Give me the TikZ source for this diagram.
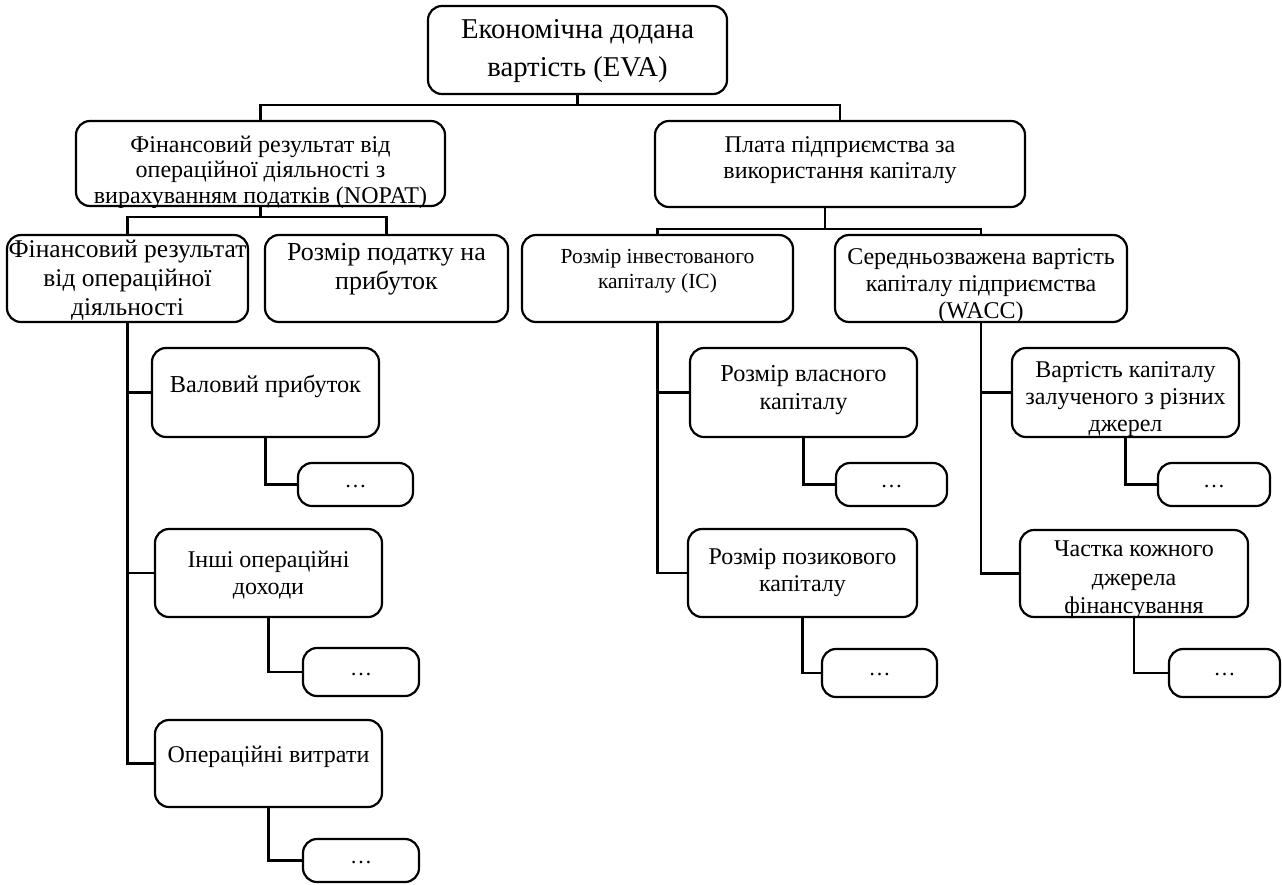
\documentclass[tikz,border=0pt]{standalone}
\usepackage{fontspec}
\setmainfont{Liberation Serif}
\usetikzlibrary{calc}
\tikzset{
  box/.style={draw, line width=2.2pt, rounded corners=14pt, inner sep=0pt},
  conn/.style={draw, line width=2.2pt},
  txt/.style={align=center, inner sep=0pt},
}
\newcommand\mybox[5]{%
  \node[box, minimum width={(#4-#2)*1pt}, minimum height={(#5-#3)*1pt}] (#1) at ({(#2+#4)/2},{(#3+#5)/2}) {};%
}
\newcommand\mytext[5]{%
  \begin{scope}
    \clip[rounded corners=14pt] (#1.south west) rectangle (#1.north east);
    \node[txt, font=#4] (#1-t) at (#2,#3) {#5};
  \end{scope}%
}
\newcommand\fs[2]{\fontsize{#1}{#2}\selectfont}
\begin{document}
\begin{tikzpicture}[x=1pt,y=-1pt]
\useasboundingbox (0,0) rectangle (1282,884);
% boxes
\mybox{eva}{428}{6}{727}{94}
\mybox{nopat}{76}{121}{445}{206}
\mybox{plata}{655}{121}{1025}{207}
\mybox{fin}{7}{235}{248}{322}
\mybox{tax}{265}{235}{508}{322}
\mybox{ic}{522}{235}{793}{322}
\mybox{wacc}{835}{235}{1127}{322}
\mybox{val}{152}{348}{379}{437}
\mybox{d1}{298}{463}{413}{506}
\mybox{inshi}{155}{529}{382}{617}
\mybox{d2}{303}{648}{419}{696}
\mybox{opv}{155}{720}{382}{807}
\mybox{d3}{303}{839}{419}{882}
\mybox{vlas}{690}{348}{917}{437}
\mybox{d4}{836}{463}{947}{506}
\mybox{poz}{688}{529}{917}{617}
\mybox{d5}{822}{649}{937}{697}
\mybox{vart}{1012}{348}{1239}{437}
\mybox{d6}{1158}{463}{1270}{506}
\mybox{chast}{1020}{530}{1248}{617}
\mybox{d7}{1169}{649}{1280}{697}
% texts
\mytext{eva}{577.5}{51}{\fs{28.7}{38}}{Економічна додана\\вартість (EVA)}
\mytext{nopat}{260.5}{172}{\fs{24}{25.5}}{Фінансовий результат від\\операційної діяльності з\\вирахуванням податків (NOPAT)}
\mytext{plata}{840}{160}{\fs{24}{26}}{Плата підприємства за\\використання капіталу}
\mytext{fin}{127.5}{280}{\fs{25.5}{29}}{Фінансовий результат\\від операційної\\діяльності}
\mytext{tax}{386.5}{269}{\fs{26}{29}}{Розмір податку на\\прибуток}
\mytext{ic}{657.5}{271}{\fs{21.5}{25}}{Розмір інвестованого\\капіталу (IC)}
\mytext{wacc}{981}{286}{\fs{24}{27}}{Середньозважена вартість\\капіталу підприємства\\(WACC)}
\mytext{val}{265.5}{386}{\fs{24.3}{27}}{Валовий прибуток}
\mytext{vlas}{803.5}{390}{\fs{24.3}{28}}{Розмір власного\\капіталу}
\mytext{vart}{1125.5}{399}{\fs{24}{27}}{Вартість капіталу\\залученого з різних\\джерел}
\mytext{inshi}{268.5}{575}{\fs{24}{27}}{Інші операційні\\доходи}
\mytext{poz}{802.5}{573}{\fs{24}{27}}{Розмір позикового\\капіталу}
\mytext{chast}{1134}{580}{\fs{24}{28.5}}{Частка кожного\\джерела\\фінансування}
\mytext{opv}{268.5}{757}{\fs{24}{27}}{Операційні витрати}
\foreach \d in {d1,d2,d3,d4,d5,d6,d7}{
  \node[txt, font=\fs{22}{24}] (\d-t) at ($(\d.center)+(0,2)$) {…};
}
% connectors
\draw[conn] (eva.south) -- ++(0,10) -| (nopat.north);
\draw[conn] (eva.south) -- ++(0,10) -| (plata.north);
\draw[conn] (nopat.south) -- ++(0,10) -| (fin.north);
\draw[conn] (nopat.south) -- ++(0,10) -| (tax.north);
\coordinate (pb) at ($(plata.south)+(-15,0)$);
\draw[conn] (pb) -- ++(0,21) -| (ic.north);
\draw[conn] (pb) -- ++(0,21) -| (wacc.north);
\draw[conn] (fin.south) |- (val.west);
\draw[conn] (fin.south) |- (inshi.west);
\draw[conn] (fin.south) |- (opv.west);
\draw[conn] (val.south) |- (d1.west);
\draw[conn] (inshi.south) |- (d2.west);
\draw[conn] (opv.south) |- (d3.west);
\draw[conn] (ic.south) |- (vlas.west);
\draw[conn] (ic.south) |- (poz.west);
\draw[conn] (vlas.south) |- (d4.west);
\draw[conn] (poz.south) |- (d5.west);
\draw[conn] (wacc.south) |- (vart.west);
\draw[conn] (wacc.south) |- (chast.west);
\draw[conn] (vart.south) |- (d6.west);
\draw[conn] (chast.south) |- (d7.west);
\end{tikzpicture}
\end{document}
